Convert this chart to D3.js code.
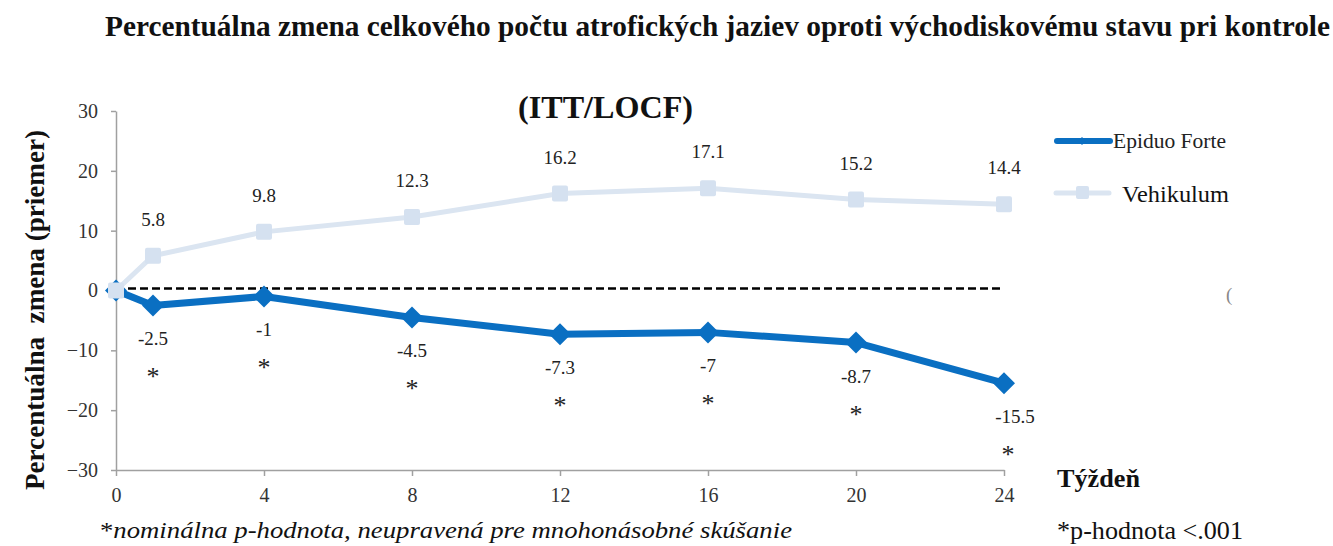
<!DOCTYPE html>
<html>
<head>
<meta charset="utf-8">
<script src="https://cdn.jsdelivr.net/npm/d3@7"></script>
<style>
  body { margin: 0; background: #fff; }
</style>
</head>
<body>
<div id="chart"></div>
<script>
const weeks = [0, 1, 4, 8, 12, 16, 20, 24];
const epiduo = [0, -2.5, -1, -4.5, -7.3, -7, -8.7, -15.5];
const vehikulum = [0, 5.8, 9.8, 12.3, 16.2, 17.1, 15.2, 14.4];
const xTicks = [0, 4, 8, 12, 16, 20, 24];
const yTicks = [-30, -20, -10, 0, 10, 20, 30];
const seriesNames = ["Epiduo Forte", "Vehikulum"];

const width = 1333, height = 546;
const blue = "#0a6fc2";
const light = "#dbe5f1";
const serif = "Liberation Serif";

const svg = d3.select("#chart")
    .append("svg")
    .attr("width", width)
    .attr("height", height)
    .attr("font-family", serif);

const xScale = d3.scaleLinear().domain([0, 24]).range([116, 1004]);
const yScale = d3.scaleLinear().domain([-30, 30]).range([470, 111]);

// text helper, fitted to the width the original text takes
function label(x, y, txt, size, len, bold) {
    const t = svg.append("text")
        .attr("x", x).attr("y", y)
        .attr("font-size", size)
        .attr("fill", "#111")
        .text(txt);
    if (bold) t.attr("font-weight", "bold");
    if (len) t.attr("textLength", len).attr("lengthAdjust", "spacingAndGlyphs");
    return t;
}

// title
label(105, 36, "Percentuálna zmena celkového počtu atrofických jaziev oproti východiskovému stavu pri kontrole", 28.5, 1225, true);
label(518, 118, "(ITT/LOCF)", 32, 175, true);

// axes
const yAxis = svg.append("g")
    .attr("transform", `translate(${xScale(0)},0)`)
    .call(d3.axisLeft(yScale).tickValues(yTicks).tickSize(5).tickSizeOuter(0).tickPadding(13));
const xAxis = svg.append("g")
    .attr("transform", `translate(0,${yScale(-30)})`)
    .call(d3.axisBottom(xScale).tickValues(xTicks).tickSize(6).tickSizeOuter(0).tickPadding(12));

[xAxis, yAxis].forEach(ax => {
    ax.attr("font-family", serif).attr("font-size", 20);
    ax.selectAll("path, line").attr("stroke", "#a0a0a0").attr("stroke-width", 1.5);
    ax.selectAll("text").attr("fill", "#333");
});

// zero reference line
svg.append("line")
    .attr("x1", xScale(0)).attr("x2", xScale(24))
    .attr("y1", yScale(0) - 2).attr("y2", yScale(0) - 2)
    .attr("stroke", "#000")
    .attr("stroke-width", 2.5)
    .attr("stroke-dasharray", "8,4");

const line = d3.line()
    .x(d => xScale(d[0]))
    .y(d => yScale(d[1]));

const vehData = weeks.map((w, i) => [w, vehikulum[i]]);
const epiData = weeks.map((w, i) => [w, epiduo[i]]);

// Epiduo Forte
svg.append("path")
    .datum(epiData)
    .attr("fill", "none")
    .attr("stroke", blue)
    .attr("stroke-width", 7)
    .attr("stroke-linejoin", "round")
    .attr("d", line);
svg.selectAll(".epi-pt")
    .data(epiData)
    .enter().append("path")
    .attr("class", "epi-pt")
    .attr("transform", d => `translate(${xScale(d[0])},${yScale(d[1])})`)
    .attr("d", "M0,-11L11,0L0,11L-11,0Z")
    .attr("fill", blue);

// Vehikulum
svg.append("path")
    .datum(vehData)
    .attr("fill", "none")
    .attr("stroke", light)
    .attr("stroke-width", 5)
    .attr("d", line);
svg.selectAll(".veh-pt")
    .data(vehData)
    .enter().append("rect")
    .attr("class", "veh-pt")
    .attr("x", d => xScale(d[0]) - 8)
    .attr("y", d => yScale(d[1]) - 8)
    .attr("width", 16).attr("height", 16)
    .attr("rx", 2)
    .attr("fill", "#d5e1f0");

// value labels
svg.selectAll(".veh-lbl")
    .data(vehData.slice(1))
    .enter().append("text")
    .attr("x", d => xScale(d[0]))
    .attr("y", d => yScale(d[1]) - 30)
    .attr("text-anchor", "middle")
    .attr("font-size", 19)
    .attr("fill", "#222")
    .text(d => d[1]);

svg.selectAll(".epi-lbl")
    .data(epiData.slice(1))
    .enter().append("text")
    .attr("x", d => xScale(d[0]) + (d[0] === 24 ? 11 : 0))
    .attr("y", d => yScale(d[1]) + 40)
    .attr("text-anchor", "middle")
    .attr("font-size", 19)
    .attr("fill", "#222")
    .text(d => d[1]);

svg.selectAll(".epi-star")
    .data(epiData.slice(1))
    .enter().append("text")
    .attr("x", d => xScale(d[0]) + (d[0] === 24 ? 4 : 0))
    .attr("y", d => yScale(d[1]) + 80)
    .attr("text-anchor", "middle")
    .attr("font-size", 26)
    .attr("fill", "#222")
    .text("*");

// y axis title
svg.append("text")
    .attr("transform", "translate(44,490) rotate(-90)")
    .attr("font-size", 27).attr("font-weight", "bold")
    .attr("fill", "#111")
    .attr("textLength", 360).attr("lengthAdjust", "spacingAndGlyphs")
    .attr("xml:space", "preserve")
    .style("white-space", "pre")
    .text("Percentuálna  zmena (priemer)");

// legend
const legend = svg.append("g");
legend.append("line")
    .attr("x1", 1057).attr("x2", 1110).attr("y1", 141).attr("y2", 141)
    .attr("stroke", blue).attr("stroke-width", 6).attr("stroke-linecap", "round");
legend.append("path")
    .attr("transform", "translate(1082,141)")
    .attr("d", "M0,-4L4,0L0,4L-4,0Z").attr("fill", blue);
label(1113, 148, seriesNames[0], 21.5, 113).attr("fill", "#222");
legend.append("line")
    .attr("x1", 1056).attr("x2", 1109).attr("y1", 193).attr("y2", 193)
    .attr("stroke", light).attr("stroke-width", 5).attr("stroke-linecap", "round");
legend.append("rect")
    .attr("x", 1076).attr("y", 186).attr("width", 13).attr("height", 13)
    .attr("rx", 2).attr("fill", "#d5e1f0");
label(1122, 202, seriesNames[1], 24, 107);

// stray fragment at right
svg.append("text")
    .attr("x", 1226).attr("y", 301)
    .attr("font-size", 19).attr("fill", "#888")
    .text("(");

// x axis title and notes
label(1057, 487, "Týždeň", 26, 83, true);
label(1057, 539, "*p-hodnota <.001", 25, 186);
const note = svg.append("text")
    .attr("x", 100).attr("y", 538)
    .attr("font-size", 24)
    .attr("fill", "#111")
    .attr("textLength", 692).attr("lengthAdjust", "spacingAndGlyphs");
note.append("tspan").text("*");
note.append("tspan").attr("font-style", "italic")
    .text("nominálna p-hodnota, neupravená pre mnohonásobné skúšanie");
</script>
</body>
</html>
